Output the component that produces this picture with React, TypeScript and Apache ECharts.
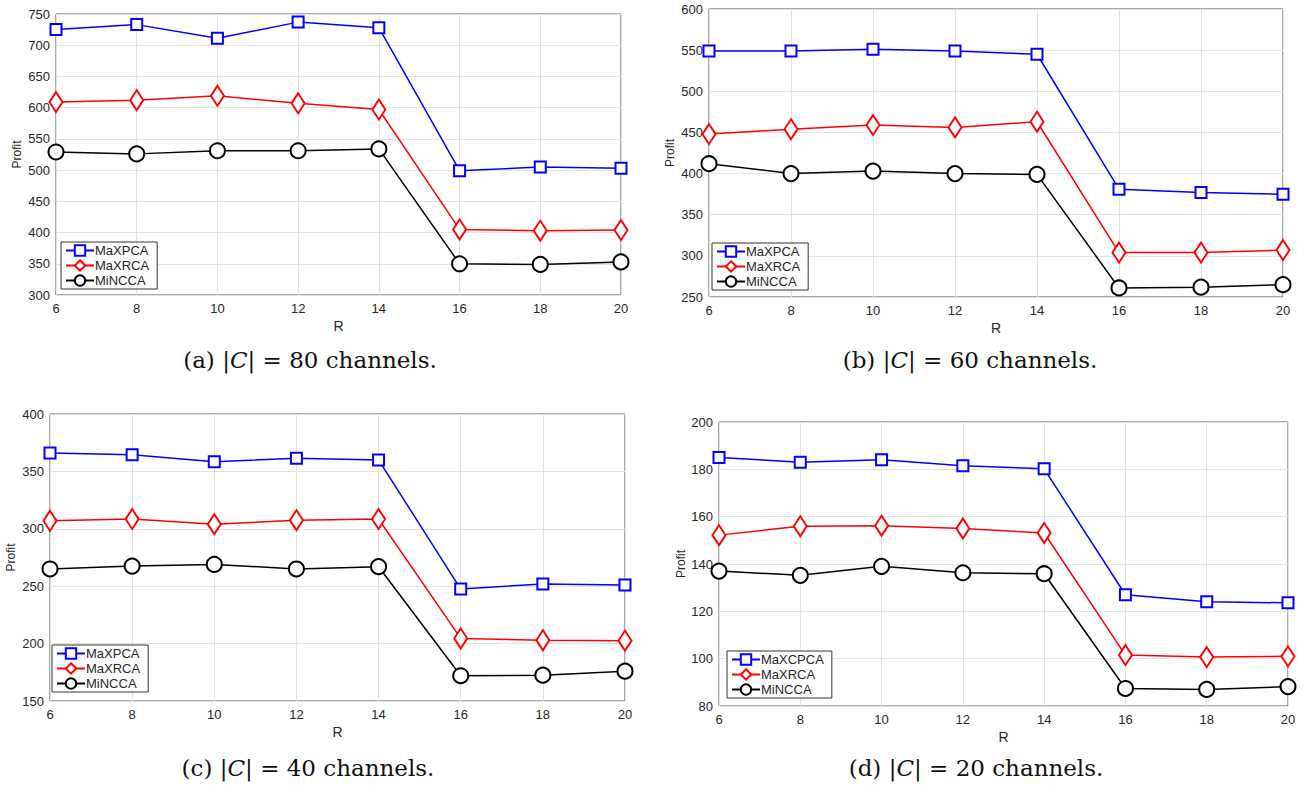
import React, { useEffect, useRef } from "react";
import * as echarts from "echarts";

// x values (R)
const rValues = [6, 8, 10, 12, 14, 16, 18, 20];

// (a) |C| = 80 channels
const aMaXPCA = [725, 733, 711, 737, 728, 499, 505, 503];
const aMaXRCA = [609, 612, 619, 607, 597, 405, 403, 404];
const aMiNCCA = [529, 526, 531, 531, 534, 350, 349, 353];

// (b) |C| = 60 channels
const bMaXPCA = [549, 549, 551, 549, 545, 381, 377, 375];
const bMaXRCA = [448, 454, 459, 456, 463, 304, 304, 307];
const bMiNCCA = [412, 400, 403, 400, 399, 261, 262, 265];

// (c) |C| = 40 channels
const cMaXPCA = [366, 364.5, 358.5, 361.5, 360, 247.5, 252, 251];
const cMaXRCA = [307, 308.5, 304, 307.5, 308.5, 204.5, 203, 202.5];
const cMiNCCA = [265, 267.5, 269, 265, 267, 172, 172.5, 176];

// (d) |C| = 20 channels
const dMaXCPCA = [185, 183, 184, 181.5, 180.2, 127, 124, 123.6];
const dMaXRCA = [152.2, 156, 156.2, 155, 153.1, 101.5, 100.7, 101];
const dMiNCCA = [137, 135.2, 139, 136.3, 135.9, 87.4, 87, 88.2];

const yMins = [300, 250, 150, 80];
const yMaxs = [750, 600, 400, 200];
const ySteps = [50, 50, 50, 20];

const legendNamesA = ["MaXPCA", "MaXRCA", "MiNCCA"];
const legendNamesD = ["MaXCPCA", "MaXRCA", "MiNCCA"];

const captions = ["(a)", "(b)", "(c)", "(d)"];
const channelCounts = [80, 60, 40, 20];

const panelSeries = [
  [aMaXPCA, aMaXRCA, aMiNCCA],
  [bMaXPCA, bMaXRCA, bMiNCCA],
  [cMaXPCA, cMaXRCA, cMiNCCA],
  [dMaXCPCA, dMaXRCA, dMiNCCA],
];

const grids = [
  { left: 56, top: 14, width: 565, height: 281 },
  { left: 709, top: 9, width: 574, height: 288 },
  { left: 50, top: 414, width: 575, height: 287 },
  { left: 719, top: 422, width: 569, height: 284 },
];

const legendPos = [
  { left: 61, top: 242 },
  { left: 712, top: 243 },
  { left: 52, top: 645 },
  { left: 727, top: 651 },
];

const captionPos = [
  { x: 310, y: 360 },
  { x: 970, y: 360 },
  { x: 308, y: 768 },
  { x: 976, y: 768 },
];

const colors = ["#0000ff", "#ff0000", "#000000"];
const symbols = ["emptyRect", "emptyDiamond", "emptyCircle"];
const symbolSizes: any[] = [11, [13, 20], 15];

export default function App() {
  const ref = useRef<HTMLDivElement>(null);

  useEffect(() => {
    if (!ref.current) return;
    const chart = echarts.init(ref.current, undefined, { renderer: "svg" });

    const xAxes = grids.map((_, i) => ({
      type: "value",
      gridIndex: i,
      min: 6,
      max: 20,
      interval: 2,
      name: "R",
      nameLocation: "middle",
      nameGap: 24,
      nameTextStyle: { fontSize: 14, color: "#262626", fontFamily: "Liberation Sans" },
      axisLine: { show: false },
      axisTick: { show: false },
      axisLabel: { fontSize: 13, color: "#262626", fontFamily: "Liberation Sans", margin: 7 },
      splitLine: { show: true, lineStyle: { color: "#e3e3e3", width: 1 } },
    }));

    const yAxes = grids.map((_, i) => ({
      type: "value",
      gridIndex: i,
      min: yMins[i],
      max: yMaxs[i],
      interval: ySteps[i],
      name: "Profit",
      nameLocation: "middle",
      nameGap: i === 3 ? 32 : 33,
      nameTextStyle: { fontSize: 12, color: "#262626", fontFamily: "Liberation Sans" },
      axisLine: { show: false },
      axisTick: { show: false },
      axisLabel: { fontSize: 13, color: "#262626", fontFamily: "Liberation Sans", margin: 6 },
      splitLine: { show: true, lineStyle: { color: "#e3e3e3", width: 1 } },
    }));

    const series: any[] = [];
    panelSeries.forEach((group, gi) => {
      const names = gi === 3 ? legendNamesD : legendNamesA;
      group.forEach((vals, si) => {
        series.push({
          type: "line",
          name: names[si],
          xAxisIndex: gi,
          yAxisIndex: gi,
          data: rValues.map((r, k) => [r, vals[k]]),
          symbol: symbols[si],
          symbolSize: symbolSizes[si],
          showAllSymbol: true,
          lineStyle: { color: colors[si], width: 1.5 },
          itemStyle: { color: colors[si], borderColor: colors[si], borderWidth: 1.5 },
          z: 3,
        });
      });
    });

    const legends = grids.map((_, i) => ({
      data: i === 3 ? legendNamesD : legendNamesA,
      orient: "vertical",
      left: legendPos[i].left,
      top: legendPos[i].top,
      itemWidth: 28,
      itemHeight: 13,
      itemGap: 2,
      padding: [2, 8, 2, 4],
      backgroundColor: "#ffffff",
      borderColor: "#333333",
      borderWidth: 1,
      selectedMode: false,
      textStyle: { fontSize: 13, color: "#262626", fontFamily: "Liberation Sans", padding: [0, 0, 0, -4] },
    }));

    const graphics: any[] = captions.map((c, i) => ({
      type: "text",
      x: captionPos[i].x,
      y: captionPos[i].y,
      style: {
        text: `${c} |{c|C}| = ${channelCounts[i]} channels.`,
        rich: {
          c: { fontFamily: "DejaVu Serif", fontStyle: "italic", fontSize: 23, fill: "#111" },
        },
        fontFamily: "DejaVu Serif",
        fontSize: 23,
        fill: "#111",
        align: "center",
        verticalAlign: "middle",
      },
    }));

    chart.setOption({
      animation: false,
      backgroundColor: "#ffffff",
      grid: grids.map((g) => ({
        ...g,
        show: true,
        borderColor: "#555555",
        borderWidth: 1,
        backgroundColor: "transparent",
      })),
      xAxis: xAxes,
      yAxis: yAxes,
      legend: legends,
      series,
      graphic: graphics,
    });

    return () => chart.dispose();
  }, []);

  return (
    <div
      ref={ref}
      style={{ position: "fixed", left: 0, top: 0, width: 1304, height: 785 }}
    />
  );
}
